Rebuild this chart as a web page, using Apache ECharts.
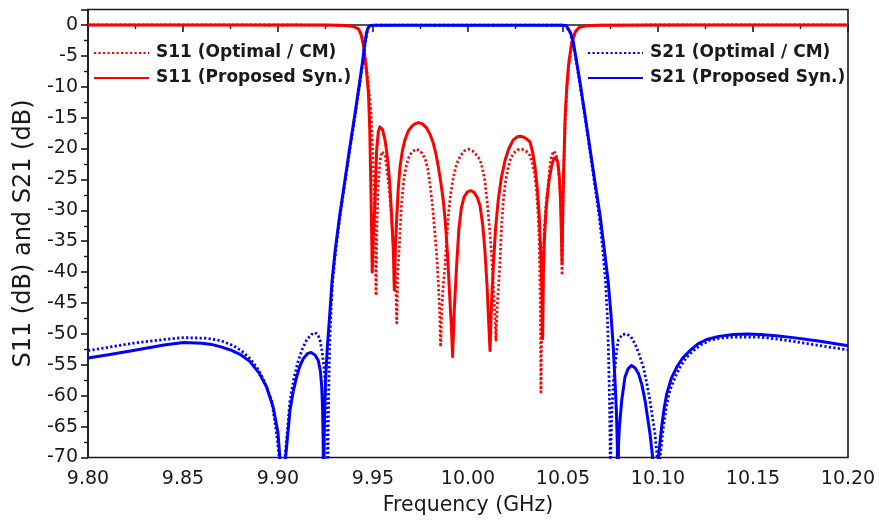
<!DOCTYPE html>
<html>
<head>
<meta charset="utf-8">
<title>S11 and S21 response</title>
<script src="https://cdn.jsdelivr.net/npm/echarts@6/dist/echarts.min.js"></script>
<style>
  html, body { margin: 0; padding: 0; background: #ffffff; }
  #chart { width: 879px; height: 523px; }
</style>
</head>
<body>
<div id="chart"></div>
<script>
// Frequency axis ticks (GHz) and dB ticks
const xTicks = [9.80, 9.85, 9.90, 9.95, 10.00, 10.05, 10.10, 10.15, 10.20];
const yTicks = [-70, -65, -60, -55, -50, -45, -40, -35, -30, -25, -20, -15, -10, -5, 0];

const seriesNames = ['S11 (Optimal / CM)', 'S11 (Proposed Syn.)', 'S21 (Optimal / CM)', 'S21 (Proposed Syn.)'];

// S11, optimal / coupling-matrix response
const s11OptFreq = [9.80, 9.90, 9.925, 9.935, 9.940, 9.9425, 9.9440, 9.9450, 9.9462, 9.9475, 9.9488, 9.9498, 9.9506, 9.9512, 9.9516,
  9.9520, 9.9527, 9.9537, 9.9546, 9.9554, 9.9563, 9.9572, 9.9585, 9.9598, 9.9608, 9.9616, 9.9621, 9.9625,
  9.9630, 9.9642, 9.9650, 9.9660, 9.9672, 9.9686, 9.9705, 9.9730, 9.9752, 9.9774, 9.9788, 9.9800, 9.9813, 9.9826, 9.9836, 9.9844, 9.9851, 9.9856,
  9.9862, 9.9870, 9.9879, 9.9887, 9.9896, 9.9908, 9.9923, 9.9940, 9.9958, 9.9980, 10.0002, 10.0025, 10.0046, 10.0063, 10.0076, 10.0089, 10.0102, 10.0116, 10.0125, 10.0133, 10.0140, 10.0147,
  10.0153, 10.0160, 10.0168, 10.0176, 10.0186, 10.0198, 10.0212, 10.0225, 10.0238, 10.0260, 10.0283, 10.0305, 10.0326, 10.0340, 10.0353, 10.0362, 10.0370, 10.0375, 10.0379, 10.0382, 10.0384,
  10.0388, 10.0394, 10.0402, 10.0412, 10.0423, 10.0432, 10.0441, 10.0453, 10.0465, 10.0475, 10.0483, 10.0488, 10.0492, 10.0495,
  10.0499, 10.0504, 10.0512, 10.0521, 10.0531, 10.0547, 10.0566, 10.0585, 10.0620, 10.0700, 10.1000, 10.20];
const s11OptDb = [0, -0.005, -0.02, -0.07, -0.25, -0.7, -1.6, -3.2, -6, -9.5, -13.5, -20, -27, -34, -43.8,
  -33, -26, -22, -20.5, -20.2, -21, -23, -26.5, -31, -36, -39.2, -43, -48.2,
  -40.5, -33.8, -29, -25.7, -23.2, -21.6, -20.5, -20.1, -20.5, -21.6, -23.2, -25.7, -29.2, -33.8, -37.5, -41.9, -46.5, -52.1,
  -46, -42, -39.2, -35, -31.1, -27.5, -24.6, -22.5, -21.3, -20.4, -20.1, -20.4, -21.1, -21.8, -23.2, -25.2, -29, -33.8, -37.5, -41.9, -46, -51,
  -46, -42.5, -38.5, -33, -28.4, -25.2, -23, -21.6, -20.8, -20.2, -20.1, -20.4, -21.1, -22.5, -24.6, -27.5, -31, -35, -41.9, -49, -59.4,
  -48, -39, -33, -28.5, -25.7, -22.5, -21.1, -20.4, -21.2, -23, -26, -28.4, -34, -40.5,
  -31, -24, -15.5, -10, -6.3, -2.8, -1.1, -0.4, -0.12, -0.03, -0.005, 0];

// S11, proposed synthesis
const s11SynFreq = [9.80, 9.90, 9.925, 9.935, 9.940, 9.9425, 9.9438, 9.9448, 9.9456, 9.9466, 9.9476, 9.9483, 9.9488, 9.9492, 9.9496,
  9.9502, 9.9511, 9.9519, 9.9528, 9.9536, 9.9542, 9.9550, 9.9563, 9.9572, 9.9581, 9.9590, 9.9598, 9.9607, 9.9612,
  9.9618, 9.9625, 9.9633, 9.9642, 9.9655, 9.9668, 9.9685, 9.9704, 9.9720, 9.9739, 9.9760, 9.9783, 9.9800, 9.9818, 9.9832, 9.9844, 9.9857, 9.9870, 9.9881, 9.9891, 9.9905, 9.9912, 9.9919,
  9.9928, 9.9940, 9.9952, 9.9965, 9.9980, 9.9997, 10.0014, 10.0032, 10.0050, 10.0063, 10.0078, 10.0089, 10.0100, 10.0108, 10.0116,
  10.0124, 10.0133, 10.0145, 10.0159, 10.0175, 10.0195, 10.0215, 10.0238, 10.0260, 10.0279, 10.0303, 10.0326, 10.0340, 10.0353, 10.0365, 10.0375, 10.0382, 10.0388, 10.0393,
  10.0397, 10.0403, 10.0412, 10.0425, 10.0440, 10.0452, 10.0463, 10.0473, 10.0481, 10.0487, 10.0491, 10.0495,
  10.0499, 10.0503, 10.0511, 10.0520, 10.0530, 10.0546, 10.0565, 10.0585, 10.0620, 10.0700, 10.1000, 10.20];
const s11SynDb = [0, -0.005, -0.02, -0.07, -0.25, -0.7, -1.6, -3, -4.9, -7.5, -11, -17, -25, -32, -40,
  -34, -28.4, -20.3, -17.3, -16.5, -16.4, -16.9, -18.6, -20.5, -23, -26.5, -31.1, -36.5, -42.9,
  -36, -31.1, -26.5, -23, -20.3, -18.6, -17.2, -16.4, -16.0, -15.8, -16.0, -16.7, -17.7, -19.2, -21, -23, -25.5, -28.4, -32, -36.5, -44.6, -48.5, -53.7,
  -46, -39, -33, -29.6, -27.8, -27.0, -26.8, -27.1, -28.0, -29.2, -32.5, -36.5, -42, -47.5, -52.7,
  -45, -39.2, -33, -28.4, -24.8, -21.9, -20, -18.6, -18.1, -18.0, -18.3, -18.9, -20.6, -23, -26.5, -31, -36, -41.9, -50.8,
  -40, -34, -29.5, -25.5, -22.8, -21.6, -21.4, -22.3, -24.6, -28.5, -33, -38.6,
  -30, -24, -15, -10, -6.3, -2.8, -1.1, -0.4, -0.12, -0.03, -0.005, 0];

// S21, optimal / coupling-matrix response
const s21OptFreq = [9.80, 9.81, 9.8238, 9.84, 9.8502, 9.8625, 9.8700, 9.8765, 9.8810, 9.8853, 9.8890, 9.8923, 9.8967, 9.8993, 9.9007, 9.9022,
  9.9037, 9.9063, 9.9085, 9.9107, 9.9130, 9.9151, 9.9175, 9.9195, 9.9210, 9.9221, 9.9232, 9.9242, 9.9250, 9.9256, 9.9259, 9.9261,
  9.9264, 9.9268, 9.9273, 9.9280, 9.9287, 9.9305, 9.9327, 9.9353, 9.9379, 9.9406, 9.9432, 9.9449, 9.9458, 9.9468, 9.9476, 9.9487, 9.9500,
  9.9700, 10.0000, 10.0300, 10.0500, 10.0516, 10.0526, 10.0538, 10.0552, 10.0570, 10.0587, 10.0614, 10.0640, 10.0665, 10.0690, 10.0709, 10.0724, 10.0733, 10.0739, 10.0743, 10.0746, 10.0748, 10.0750,
  10.0752, 10.0758, 10.0766, 10.0774, 10.0782, 10.0791, 10.0812, 10.0835, 10.0858, 10.0879, 10.0900, 10.0923, 10.0940, 10.0958, 10.0984, 10.0996, 10.1003,
  10.1011, 10.1028, 10.1045, 10.1063, 10.1090, 10.1116, 10.1150, 10.1186, 10.1230, 10.1274, 10.1330, 10.1396, 10.1537, 10.1620, 10.1712, 10.1853, 10.20];
const s21OptDb = [-52.7, -52.2, -51.5, -50.9, -50.6, -50.7, -51.1, -51.9, -52.8, -54, -55.5, -57.3, -60.8, -66.2, -70.2, -90,
  -70, -60.8, -57, -54.3, -52.3, -51, -50.1, -49.8, -50.1, -51, -52.8, -55.4, -58.5, -62.4, -67, -90,
  -66, -58, -51, -45.5, -41.6, -36.2, -30.8, -25.4, -20, -14.6, -9.2, -5.5, -3.2, -1.3, -0.45, -0.12, -0.05,
  -0.04, -0.05, -0.04, -0.05, -0.12, -0.4, -1.3, -2.7, -6, -9.2, -14.6, -20, -25.4, -30.8, -36.2, -41.6, -47, -52.4, -57.8, -63.2, -68, -90,
  -68, -62, -57.5, -55.4, -52.8, -51, -50.1, -50, -50.5, -51.6, -53.2, -55.4, -57.8, -60.8, -66.2, -70, -90,
  -70, -65.1, -61.6, -59.1, -57, -55.4, -53.8, -52.7, -51.7, -51, -50.7, -50.5, -50.5, -50.8, -51.2, -51.9, -52.6];

// S21, proposed synthesis
const s21SynFreq = [9.80, 9.81, 9.8238, 9.84, 9.8502, 9.86, 9.865, 9.870, 9.875, 9.880, 9.885, 9.890, 9.894, 9.8975, 9.9000, 9.9011, 9.9025,
  9.9040, 9.9063, 9.9080, 9.9098, 9.9115, 9.9133, 9.9155, 9.9174, 9.9195, 9.9212, 9.9223, 9.9230, 9.9235, 9.9238, 9.9240,
  9.9243, 9.9246, 9.9250, 9.9259, 9.9272, 9.9284, 9.9302, 9.9325, 9.9351, 9.9377, 9.9404, 9.9430, 9.9447, 9.9456, 9.9466, 9.9474, 9.9485, 9.9500,
  9.9700, 10.0000, 10.0300, 10.0500, 10.0518, 10.0528, 10.0540, 10.0554, 10.0572, 10.0589, 10.0616, 10.0642, 10.0668, 10.0695, 10.0717, 10.0738, 10.0753, 10.0765, 10.0774, 10.0781, 10.0786, 10.0789,
  10.0792, 10.0797, 10.0809, 10.0826, 10.0843, 10.0861, 10.0880, 10.0897, 10.0915, 10.0932, 10.0958, 10.0972, 10.0987,
  10.1002, 10.1019, 10.1032, 10.1046, 10.1070, 10.1098, 10.1130, 10.1168, 10.1210, 10.1256, 10.1320, 10.1396, 10.1470, 10.1537, 10.1620, 10.1712, 10.1853, 10.20];
const s21SynDb = [-53.9, -53.4, -52.7, -51.8, -51.4, -51.5, -51.7, -52.1, -52.6, -53.3, -54.4, -56.3, -58.6, -61.9, -66, -70.5, -90,
  -70, -62.4, -59.3, -57, -55.2, -54, -53.2, -53.0, -53.4, -54.3, -56, -58.5, -62.5, -68, -90,
  -67, -62, -57.8, -52.4, -47, -41.6, -36.2, -30.8, -25.4, -20, -14.6, -9.2, -5.5, -3.2, -1.3, -0.45, -0.12, -0.05,
  -0.04, -0.05, -0.04, -0.05, -0.12, -0.4, -1.3, -2.7, -6, -9.2, -14.6, -20, -25.4, -30.8, -36.2, -41.6, -47, -52.4, -57.8, -62.5, -68, -90,
  -68, -65, -60.8, -57, -55.6, -55.1, -55.5, -56.4, -58.2, -60.8, -66.2, -70, -90,
  -70, -65.1, -62.1, -59.7, -57.2, -55.4, -53.9, -52.7, -51.6, -50.9, -50.4, -50.1, -50.0, -50.1, -50.3, -50.6, -51.2, -51.9];

const zip = (fs, vs) => fs.map((f, i) => [f, vs[i]]);

const RED = '#ff0000';
const BLUE = '#0000ff';
const INK = '#1a1a1a';
const FONT = 'DejaVu Sans';

function lineSeries(name, data, color, dotted) {
  return {
    name: name,
    type: 'line',
    data: data,
    symbol: 'none',
    clip: true,
    smooth: false,
    animation: false,
    lineStyle: {
      color: color,
      width: dotted ? 2.8 : 3,
      type: dotted ? [2.2, 2.3] : 'solid',
      cap: 'butt',
      join: 'round'
    },
    itemStyle: { color: color }
  };
}

const chart = echarts.init(document.getElementById('chart'), null, { renderer: 'canvas' });

const legendText = { fontFamily: FONT, fontWeight: 'bold', fontSize: 17, color: INK, padding: [0, 0, 0, 2] };

chart.setOption({
  animation: false,
  backgroundColor: '#ffffff',
  grid: {
    left: 88, right: 31, top: 9.5, bottom: 65.5,
    show: true, borderColor: INK, borderWidth: 1.6, backgroundColor: 'transparent'
  },
  legend: [
    {
      left: 88, top: 39.5, orient: 'vertical',
      itemWidth: 55, itemHeight: 17, itemGap: 8,
      itemStyle: { opacity: 0 },
      data: [seriesNames[0], seriesNames[1]],
      textStyle: legendText
    },
    {
      left: 582, top: 39.5, orient: 'vertical',
      itemWidth: 55, itemHeight: 17, itemGap: 8,
      itemStyle: { opacity: 0 },
      data: [seriesNames[2], seriesNames[3]],
      textStyle: legendText
    }
  ],
  xAxis: {
    type: 'value',
    min: xTicks[0],
    max: xTicks[xTicks.length - 1],
    interval: 0.05,
    name: 'Frequency (GHz)',
    nameLocation: 'middle',
    nameGap: 38,
    nameTextStyle: { fontFamily: FONT, fontSize: 20.5, color: INK },
    axisLine: { show: true, lineStyle: { color: INK, width: 1.6 } },
    axisTick: { show: true, inside: false, length: 7, lineStyle: { color: INK, width: 1.6 } },
    minorTick: { show: true, splitNumber: 2, length: 4, lineStyle: { color: INK, width: 1.4 } },
    splitLine: { show: false },
    axisLabel: {
      margin: 12, fontFamily: FONT, fontSize: 19, color: INK,
      formatter: v => v.toFixed(2)
    }
  },
  yAxis: {
    type: 'value',
    min: yTicks[0],
    max: 2.5,
    interval: 5,
    name: 'S11 (dB) and S21 (dB)',
    nameLocation: 'middle',
    nameGap: 50,
    nameTextStyle: { fontFamily: FONT, fontSize: 24, color: INK },
    axisLine: { show: true, lineStyle: { color: INK, width: 1.6 } },
    axisTick: { show: true, inside: false, length: 7, lineStyle: { color: INK, width: 1.6 } },
    minorTick: { show: true, splitNumber: 2, length: 4, lineStyle: { color: INK, width: 1.4 } },
    splitLine: { show: false },
    axisLabel: {
      margin: 10, fontFamily: FONT, fontSize: 19, color: INK,
      formatter: v => (yTicks.indexOf(Math.round(v * 100) / 100) >= 0 ? String(Math.round(v)) : '')
    }
  },
  series: [
    lineSeries(seriesNames[0], zip(s11OptFreq, s11OptDb), RED, true),
    lineSeries(seriesNames[1], zip(s11SynFreq, s11SynDb), RED, false),
    lineSeries(seriesNames[2], zip(s21OptFreq, s21OptDb), BLUE, true),
    lineSeries(seriesNames[3], zip(s21SynFreq, s21SynDb), BLUE, false)
  ]
});
</script>
</body>
</html>
